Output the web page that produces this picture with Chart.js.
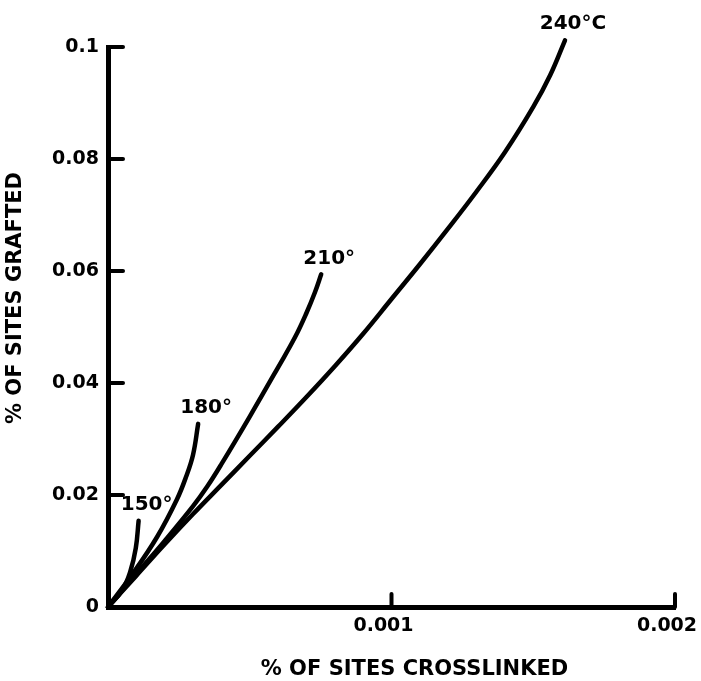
<!DOCTYPE html>
<html>
<head>
<meta charset="utf-8">
<script src="https://cdn.jsdelivr.net/npm/chart.js@4.4.0/dist/chart.umd.min.js"></script>
<style>
    html, body { margin: 0; padding: 0; background: #fff; }
</style>
</head>
<body>
<canvas id="grafting-chart" width="701" height="681"></canvas>
<script>
const curveNames = ['150°', '180°', '210°', '240°C'];

// % of sites crosslinked / % of sites grafted
const crosslinked150 = [0, 0.00005, 0.000078, 0.000098, 0.000108];
const grafted150 = [0, 0.0030, 0.0062, 0.0105, 0.0154];

const crosslinked180 = [0, 0.000088, 0.000173, 0.000243, 0.000275, 0.000300, 0.000318];
const grafted180 = [0, 0.0060, 0.0125, 0.0192, 0.0232, 0.0272, 0.0327];

const crosslinked210 = [0, 0.0001, 0.0002, 0.0003, 0.00035, 0.0004, 0.0005, 0.0006, 0.00066, 0.0007, 0.00073, 0.000752];
const grafted210 = [0, 0.0059, 0.0118, 0.0180, 0.0215, 0.0255, 0.0340, 0.0428, 0.0482, 0.0525, 0.0562, 0.0594];

const crosslinked240 = [0, 0.0001, 0.0002, 0.0003, 0.0004, 0.0005, 0.0006, 0.0007, 0.0008, 0.0009, 0.001,
    0.0011, 0.0012, 0.0013, 0.0014, 0.0015, 0.00156, 0.001612];
const grafted240 = [0, 0.0056, 0.0112, 0.0166, 0.0218, 0.0270, 0.0322, 0.0375, 0.0430, 0.0488, 0.0550,
    0.0612, 0.0676, 0.0742, 0.0812, 0.0893, 0.0950, 0.1012];

const xAxisTitle = '% OF SITES CROSSLINKED';
const yAxisTitle = '% OF SITES GRAFTED';

const FONT = '"DejaVu Sans", "Liberation Sans", sans-serif';

function toPoints(xs, ys) {
    return xs.map((v, i) => ({x: v, y: ys[i]}));
}

function makeDataset(name, xs, ys) {
    return {
        label: name,
        data: toPoints(xs, ys),
        showLine: true,
        borderColor: '#000',
        borderWidth: 4.5,
        borderCapStyle: 'round',
        borderJoinStyle: 'round',
        pointRadius: 0,
        tension: 0.4,
        clip: false
    };
}

// tick marks drawn inward, curve labels, axis titles
const sketchPlugin = {
    id: 'sketch',
    afterDraw(chart) {
        const ctx = chart.ctx;
        const xScale = chart.scales.x;
        const yScale = chart.scales.y;
        const area = chart.chartArea;

        ctx.save();
        ctx.strokeStyle = '#000';
        ctx.lineWidth = 4;
        ctx.lineCap = 'round';
        yScale.ticks.forEach(t => {
            if (t.value === 0) return;
            const py = yScale.getPixelForValue(t.value);
            ctx.beginPath();
            ctx.moveTo(area.left, py);
            ctx.lineTo(area.left + 15, py);
            ctx.stroke();
        });
        xScale.ticks.forEach(t => {
            if (t.value === 0) return;
            const px = xScale.getPixelForValue(t.value);
            ctx.beginPath();
            ctx.moveTo(px, area.bottom);
            ctx.lineTo(px, area.bottom - 13);
            ctx.stroke();
        });

        ctx.fillStyle = '#000';
        ctx.font = 'bold 20px ' + FONT;
        ctx.textAlign = 'center';
        ctx.textBaseline = 'middle';
        chart.data.datasets.forEach((ds, i) => {
            const meta = chart.getDatasetMeta(i);
            const last = meta.data[meta.data.length - 1];
            ctx.fillText(ds.label, last.x + 8, last.y - 16);
        });

        ctx.font = 'bold 21px ' + FONT;
        ctx.fillText(xAxisTitle, (area.left + area.right) / 2 + 23, chart.height - 11);

        ctx.translate(16, (area.top + area.bottom) / 2 - 29);
        ctx.rotate(-Math.PI / 2);
        ctx.fillText(yAxisTitle, 0, 0);
        ctx.restore();
    }
};

function tickText(value) {
    return Number(value.toFixed(4)).toString();
}

new Chart(document.getElementById('grafting-chart'), {
    type: 'scatter',
    data: {
        datasets: [
            makeDataset(curveNames[0], crosslinked150, grafted150),
            makeDataset(curveNames[1], crosslinked180, grafted180),
            makeDataset(curveNames[2], crosslinked210, grafted210),
            makeDataset(curveNames[3], crosslinked240, grafted240)
        ]
    },
    options: {
        responsive: false,
        devicePixelRatio: 1,
        animation: false,
        layout: {
            padding: {top: 47, right: 26, left: 0, bottom: 0}
        },
        plugins: {
            legend: {display: false},
            tooltip: {enabled: false}
        },
        scales: {
            x: {
                type: 'linear',
                min: 0,
                max: 0.002,
                grid: {display: false, drawTicks: false},
                border: {display: true, color: '#000', width: 5},
                ticks: {
                    stepSize: 0.001,
                    color: '#000',
                    padding: 8,
                    labelOffset: -8,
                    font: {family: FONT, size: 19, weight: 'bold'},
                    callback: (v) => v === 0 ? '' : tickText(v)
                },
                afterFit: (scale) => {
                    scale.height = 74;
                    scale.paddingLeft = 0;
                    scale.paddingRight = 0;
                }
            },
            y: {
                type: 'linear',
                min: 0,
                max: 0.1,
                grid: {display: false, drawTicks: false},
                border: {display: true, color: '#000', width: 5},
                ticks: {
                    stepSize: 0.02,
                    color: '#000',
                    padding: 9,
                    font: {family: FONT, size: 19, weight: 'bold'},
                    callback: (v) => tickText(v)
                },
                afterFit: (scale) => {
                    scale.width = 108;
                }
            }
        }
    },
    plugins: [sketchPlugin]
});
</script>
</body>
</html>
